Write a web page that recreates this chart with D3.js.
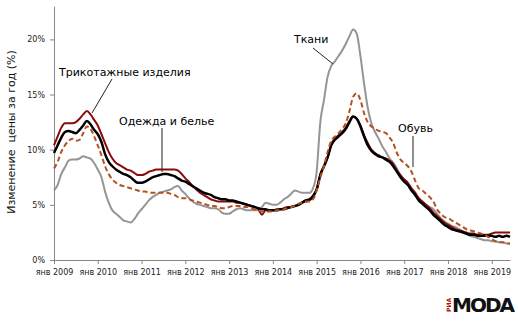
<!doctype html>
<html>
<head>
<meta charset="UTF-8">
<title>Цены</title>
<script src="https://d3js.org/d3.v7.min.js"></script>
<style>
  body { margin: 0; background: #fff; }
  text { font-family: "DejaVu Sans", sans-serif; }
</style>
</head>
<body>
<script>
// помесячно, янв 2009 - июн 2019, % за год
var years = ["2009","2010","2011","2012","2013","2014","2015","2016","2017","2018","2019"];
var yTicks = [0, 5, 10, 15, 20];

var knit = [
  10.4,11.2,12.0,12.4,12.4,12.4,12.5,12.8,13.2,13.5,13.2,12.7,
  12.2,11.4,10.6,9.8,9.2,8.8,8.6,8.4,8.2,8.1,7.9,7.7,
  7.7,7.8,8.0,8.1,8.2,8.2,8.2,8.2,8.2,8.2,8.1,7.8,
  7.4,7.1,6.7,6.4,6.1,5.9,5.7,5.5,5.4,5.3,5.3,5.3,
  5.3,5.3,5.2,5.2,5.1,5.0,4.9,4.8,4.6,4.1,4.5,4.5,
  4.5,4.6,4.6,4.7,4.8,4.8,4.9,5.0,5.2,5.3,5.4,5.7,
  6.4,7.8,8.5,9.3,10.5,11.0,11.3,11.6,12.0,12.6,13.0,12.8,
  12.2,11.3,10.6,10.0,9.7,9.5,9.3,9.2,9.0,8.7,8.1,7.7,
  7.3,7.0,6.5,6.1,5.6,5.3,5.0,4.7,4.3,4.0,3.7,3.4,
  3.2,3.0,2.8,2.7,2.6,2.5,2.4,2.4,2.3,2.3,2.3,2.3,
  2.4,2.5,2.5,2.5,2.5,2.5
];
var clothes = [
  9.7,10.4,11.1,11.6,11.7,11.6,11.5,11.8,12.2,12.6,12.3,11.8,
  11.4,10.7,9.6,8.9,8.5,8.2,8.0,7.8,7.7,7.5,7.2,7.0,
  7.0,7.1,7.3,7.5,7.6,7.7,7.8,7.8,7.7,7.6,7.4,7.2,
  7.1,6.9,6.7,6.5,6.3,6.1,6.0,5.9,5.7,5.6,5.5,5.5,
  5.4,5.4,5.3,5.2,5.1,5.0,4.9,4.8,4.7,4.6,4.6,4.5,
  4.5,4.5,4.6,4.6,4.7,4.8,4.9,5.0,5.2,5.4,5.5,5.8,
  6.4,7.7,8.5,9.3,10.4,10.9,11.2,11.5,11.9,12.5,13.0,12.8,
  12.1,11.2,10.4,9.9,9.6,9.4,9.3,9.1,8.9,8.5,8.0,7.5,
  7.1,6.8,6.3,5.9,5.4,5.1,4.8,4.5,4.1,3.8,3.5,3.2,
  3.0,2.8,2.7,2.6,2.5,2.4,2.3,2.3,2.2,2.2,2.2,2.2,
  2.2,2.1,2.2,2.1,2.2,2.1
];
var fabric = [
  6.3,6.8,7.8,8.4,9.0,9.1,9.1,9.2,9.4,9.3,9.2,8.8,
  8.2,7.5,6.2,5.2,4.5,4.2,3.9,3.6,3.5,3.4,3.7,4.2,
  4.6,5.0,5.4,5.7,5.9,6.1,6.2,6.3,6.4,6.6,6.7,6.3,
  6.0,5.6,5.3,5.1,5.0,4.9,4.8,4.7,4.7,4.6,4.3,4.2,
  4.2,4.4,4.6,4.7,4.6,4.5,4.5,4.5,4.6,4.8,5.2,5.1,
  5.0,5.0,5.2,5.5,5.7,6.0,6.3,6.2,6.1,6.1,6.1,6.5,
  8.0,12.5,14.5,16.6,17.6,18.0,18.5,19.0,19.6,20.3,20.9,20.5,
  18.5,16.0,13.8,12.4,11.6,11.0,10.3,9.8,9.2,8.8,8.3,7.6,
  7.3,6.9,6.4,6.0,5.5,5.2,5.0,4.8,4.6,4.2,3.8,3.5,
  3.3,3.1,3.0,2.8,2.6,2.4,2.2,2.1,2.0,1.9,1.8,1.8,
  1.7,1.7,1.6,1.6,1.5,1.5
];
var shoes = [
  8.3,8.9,9.8,10.4,10.8,11.0,10.8,10.9,11.5,12.1,11.9,11.2,
  10.4,9.5,8.5,7.8,7.3,7.0,6.8,6.7,6.6,6.5,6.4,6.3,
  6.2,6.2,6.1,6.1,6.1,6.1,6.1,6.1,6.0,5.9,5.7,5.6,
  5.6,5.5,5.4,5.3,5.2,5.1,5.0,4.9,4.9,4.8,4.7,4.7,
  4.8,4.9,4.9,4.9,4.8,4.8,4.7,4.6,4.5,4.4,4.4,4.4,
  4.4,4.5,4.5,4.6,4.7,4.8,4.9,5.1,5.2,5.3,5.3,5.5,
  6.3,7.5,8.5,9.8,10.8,11.2,11.5,11.9,12.4,13.5,14.8,15.1,
  14.5,13.3,12.5,12.1,11.9,11.7,11.6,11.5,11.1,10.6,9.7,9.1,
  8.8,8.5,8.0,7.2,6.5,6.3,6.0,5.7,5.3,4.6,4.2,3.9,
  3.8,3.6,3.4,3.2,3.0,2.8,2.7,2.6,2.5,2.4,2.3,2.1,
  1.9,1.7,1.6,1.6,1.5,1.5
];

var w = 518, h = 323;
var svg = d3.select("body").append("svg").attr("width", w).attr("height", h);

var x = d3.scaleLinear().domain([0, 125]).range([54, 510]);
var y = d3.scaleLinear().domain([0, 23]).range([260, 6.3]);

var xAxis = d3.axisBottom(x)
  .tickValues(years.map(function(d, i){ return i * 12; }))
  .tickFormat(function(d, i){ return "янв " + years[i]; })
  .tickSize(4).tickSizeOuter(0).tickPadding(5);
var yAxis = d3.axisLeft(y)
  .tickValues(yTicks)
  .tickFormat(function(d){ return d + "%"; })
  .tickSize(4).tickSizeOuter(0).tickPadding(5);

var gx = svg.append("g").attr("transform", "translate(0,260)").call(xAxis);
var gy = svg.append("g").attr("transform", "translate(54,0)").call(yAxis);
[gx, gy].forEach(function(g){
  g.select(".domain").attr("stroke", "#888");
  g.selectAll(".tick line").attr("stroke", "#888");
  g.selectAll("text").attr("font-size", 8).attr("fill", "#222").attr("font-family", "DejaVu Sans");
});

svg.append("text")
  .attr("transform", "translate(15,132) rotate(-90)")
  .attr("text-anchor", "middle")
  .attr("font-size", 11)
  .attr("fill", "#111")
  .attr("xml:space", "preserve")
  .text("Изменение  цены за год (%)");

var line = d3.line()
  .x(function(d, i){ return x(i); })
  .y(function(d){ return y(d); })
  .curve(d3.curveMonotoneX);

var series = [
  {data: fabric, color: "#959595", width: 2, dash: null},
  {data: knit, color: "#8b0a0a", width: 2, dash: null},
  {data: clothes, color: "#000", width: 2.5, dash: null},
  {data: shoes, color: "#b4521f", width: 2, dash: "5,3"}
];
series.forEach(function(s){
  svg.append("path").datum(s.data)
    .attr("d", line)
    .attr("fill", "none")
    .attr("stroke", s.color)
    .attr("stroke-width", s.width)
    .attr("stroke-dasharray", s.dash)
    .attr("stroke-linejoin", "round");
});

// подписи
var notes = [
  {t: "Трикотажные изделия", tx: 59, ty: 76, l: [112, 79, 92, 113]},
  {t: "Одежда и белье", tx: 119, ty: 125, l: [162, 128, 162, 172]},
  {t: "Ткани", tx: 294, ty: 43, l: [313, 48, 333, 64]},
  {t: "Обувь", tx: 398, ty: 132, l: [413, 136, 413, 167]}
];
notes.forEach(function(n){
  svg.append("text").attr("x", n.tx).attr("y", n.ty)
    .attr("font-size", 11).attr("fill", "#000").text(n.t);
  svg.append("line")
    .attr("x1", n.l[0]).attr("y1", n.l[1]).attr("x2", n.l[2]).attr("y2", n.l[3])
    .attr("stroke", "#222").attr("stroke-width", 1);
});

// логотип
svg.append("text")
  .attr("transform", "translate(451,312) rotate(-90)")
  .attr("font-size", 6).attr("font-weight", "bold").attr("fill", "#b01010")
  .text("РИА");
svg.append("text")
  .attr("x", 452).attr("y", 312)
  .attr("font-size", 20).attr("font-weight", "bold").attr("letter-spacing", -2)
  .attr("fill", "#111")
  .text("MODA");
</script>
</body>
</html>
